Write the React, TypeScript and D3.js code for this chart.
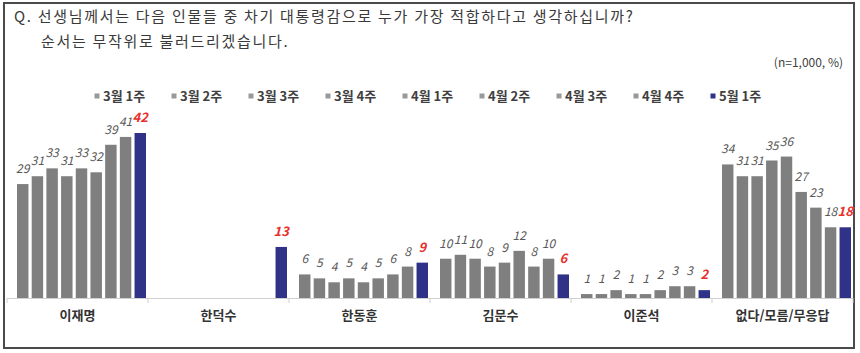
import React from 'react';
import * as d3 from 'd3';

const titleLines = [
  'Q. 선생님께서는 다음 인물들 중 차기 대통령감으로 누가 가장 적합하다고 생각하십니까?',
  '순서는 무작위로 불러드리겠습니다.',
];
const unitNote = '(n=1,000,  %)';

const weeks = ['3월 1주', '3월 2주', '3월 3주', '3월 4주', '4월 1주', '4월 2주', '4월 3주', '4월 4주', '5월 1주'];
const candidates = ['이재명', '한덕수', '한동훈', '김문수', '이준석', '없다/모름/무응답'];

// one array per candidate, one value per week (null = not asked)
const leeJaemyung = [29, 31, 33, 31, 33, 32, 39, 41, 42];
const hanDucksoo = [null, null, null, null, null, null, null, null, 13];
const hanDonghoon = [6, 5, 4, 5, 4, 5, 6, 8, 9];
const kimMoonsoo = [10, 11, 10, 8, 9, 12, 8, 10, 6];
const leeJunseok = [1, 1, 2, 1, 1, 2, 3, 3, 2];
const noAnswer = [34, 31, 31, 35, 36, 27, 23, 18, 18];

const values: (number | null)[][] = [leeJaemyung, hanDucksoo, hanDonghoon, kimMoonsoo, leeJunseok, noAnswer];

const GRAY = '#7f7f7f';
const NAVY = '#2f3286';
const FONT = '"Noto Sans CJK KR", "Noto Sans", sans-serif';

const App = () => {
  const width = 860;
  const height = 353;
  const base = 298;

  const x0 = d3.scaleBand<string>().domain(candidates).range([7, 853]);
  const x1 = d3.scaleBand<string>().domain(weeks).range([10, x0.bandwidth() - 2]).paddingInner(0.22);
  const y = d3.scaleLinear().domain([0, 42]).range([base, 133]);

  const legendX = d3.scalePoint<string>().domain(weeks).range([97, 713]);

  return (
    <svg width={width} height={height} style={{ position: 'absolute', left: 0, top: 0, background: '#fff' }}>
      <rect x={4} y={3} width={850} height={345} fill="#fff" stroke="#4a4a4a" strokeWidth={2} />

      {/* title */}
      <text x={14} y={22} fontFamily={FONT} fontSize={15} fill="#3a3a3a" letterSpacing={1.7}>{titleLines[0]}</text>
      <text x={41} y={47} fontFamily={FONT} fontSize={15} fill="#3a3a3a" letterSpacing={1.7}>{titleLines[1]}</text>
      <text x={843} y={67} textAnchor="end" fontFamily={FONT} fontSize={12} fill="#404040">{unitNote}</text>

      {/* legend */}
      {weeks.map((w, i) => (
        <g key={w} transform={`translate(${legendX(w)},96)`}>
          <rect x={-2.5} y={-2.5} width={5} height={5} fill={i === weeks.length - 1 ? NAVY : '#999'} />
          <text x={6} y={5} fontFamily={FONT} fontSize={13} fontWeight="bold" fill="#404040">{w}</text>
        </g>
      ))}

      {/* axis */}
      <line x1={7} x2={853} y1={base + 0.5} y2={base + 0.5} stroke="#d0d0d0" strokeWidth={1} />
      {d3.range(candidates.length + 1).map((i) => (
        <line key={i} x1={7 + i * x0.bandwidth()} x2={7 + i * x0.bandwidth()} y1={base} y2={base + 5} stroke="#d0d0d0" />
      ))}

      {candidates.map((c, ci) => (
        <g key={c} transform={`translate(${x0(c)},0)`}>
          {weeks.map((w, wi) => {
            const v = values[ci][wi];
            if (v == null) return null;
            const last = wi === weeks.length - 1;
            const bx = x1(w) as number;
            return (
              <g key={w}>
                <rect x={bx} y={y(v)} width={x1.bandwidth()} height={base - y(v)} fill={last ? NAVY : GRAY} />
                <text
                  x={bx + x1.bandwidth() / 2}
                  y={y(v) - 11}
                  textAnchor="middle"
                  fontFamily={FONT}
                  fontStyle="italic"
                  fontWeight={last ? 'bold' : 'normal'}
                  fontSize={last ? 13 : 12}
                  fill={last ? '#e8302c' : '#595959'}
                >
                  {v}
                </text>
              </g>
            );
          })}
          <text x={x0.bandwidth() / 2} y={320} textAnchor="middle" fontFamily={FONT} fontSize={13} fontWeight="bold" fill="#333">
            {c}
          </text>
        </g>
      ))}
    </svg>
  );
};

export default App;
